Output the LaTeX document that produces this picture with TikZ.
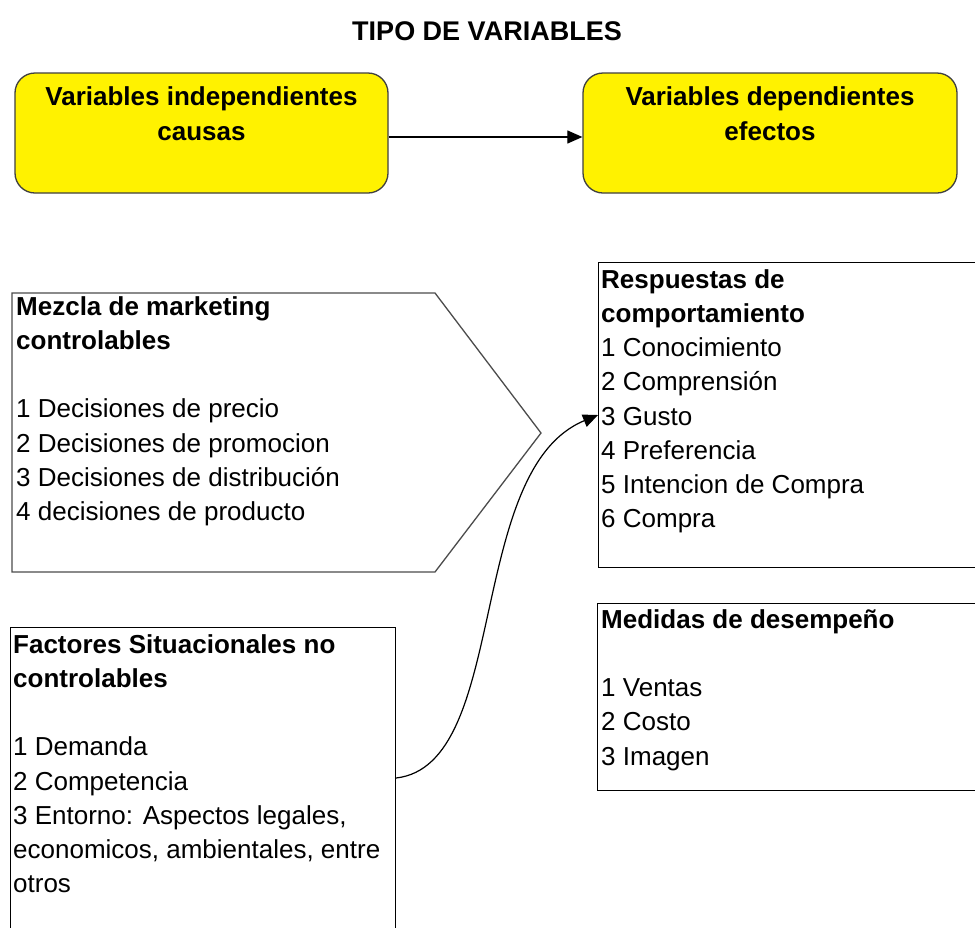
\documentclass[tikz,border=0pt]{standalone}
\usepackage{fontspec}
\setmainfont{Liberation Sans}
\usetikzlibrary{arrows.meta,calc}
\tikzset{
  ybox/.style={draw=black!75, line width=1.3pt, fill=yellow, rounded corners=20pt, inner sep=0pt},
  tbox/.style={draw=black, line width=1.1pt, inner sep=0pt, anchor=north west},
  body/.style={font=\fontsize{26}{34.2}\selectfont, anchor=north west, inner sep=0pt, align=left},
  ytext/.style={font=\bfseries\fontsize{26}{35}\selectfont, anchor=north, inner sep=0pt, align=center},
  conn/.style={line width=1.2pt, -{Triangle[length=15pt,width=13pt]}}
}
\begin{document}
\begin{tikzpicture}[x=1pt,y=-1pt]
\useasboundingbox (0,0) rectangle (975,927);
\fill[white] (0,0) rectangle (975,927);

% title
\node[font=\bfseries\fontsize{27}{32}\selectfont, anchor=base, inner sep=0pt] (title) at (487,40) {TIPO DE VARIABLES};

% yellow boxes
\node[ybox, minimum width=373pt, minimum height=120pt] (indep) at (201.5,133) {};
\node[ybox, minimum width=374pt, minimum height=120pt] (dep) at (770,133) {};
\node[ytext] (indepT) at (201.5,80.5) {\strut Variables independientes\\causas};
\node[ytext] (depT) at (770,80.5) {\strut Variables dependientes\\efectos};
\draw[conn] ([yshift=-4pt]indep.east) -- ([yshift=-4pt]dep.west);

% marketing mix pentagon
\draw[draw=black!70, line width=1.3pt] (12,293) -- (435,293) -- (541,433) -- (435,572) -- (12,572) -- cycle;
\node[body] (mezT) at (16,291.06) {\strut\textbf{Mezcla de marketing}\\\textbf{controlables}\\[34.2pt]1 Decisiones de precio\\2 Decisiones de promocion\\3 Decisiones de distribución\\4 decisiones de producto};

% situational factors
\node[tbox, minimum width=385pt, minimum height=333pt] (fact) at (10,627) {};
\node[body] (factT) at (13,629.06) {\strut\textbf{Factores Situacionales no}\\\textbf{controlables}\\[34.2pt]1 Demanda\\2 Competencia\\3 Entorno: Aspectos legales,\\economicos, ambientales, entre\\otros};

% behavioural responses
\node[tbox, minimum width=392pt, minimum height=305pt] (resp) at (598,262) {};
\node[body] (respT) at (601,264.06) {\strut\textbf{Respuestas de}\\\textbf{comportamiento}\\1 Conocimiento\\2 Comprensión\\3 Gusto\\4 Preferencia\\5 Intencion de Compra\\6 Compra};

% performance measures
\node[tbox, minimum width=393pt, minimum height=187pt] (meas) at (597,603) {};
\node[body] (measT) at (601,604.06) {\strut\textbf{Medidas de desempeño}\\[34.2pt]1 Ventas\\2 Costo\\3 Imagen};

% curved connector
\draw[conn] ($(fact.north east)+(0,151)$) .. controls (510,765) and (465,470) .. ($(resp.north west)+(0,153)$);
\end{tikzpicture}
\end{document}
